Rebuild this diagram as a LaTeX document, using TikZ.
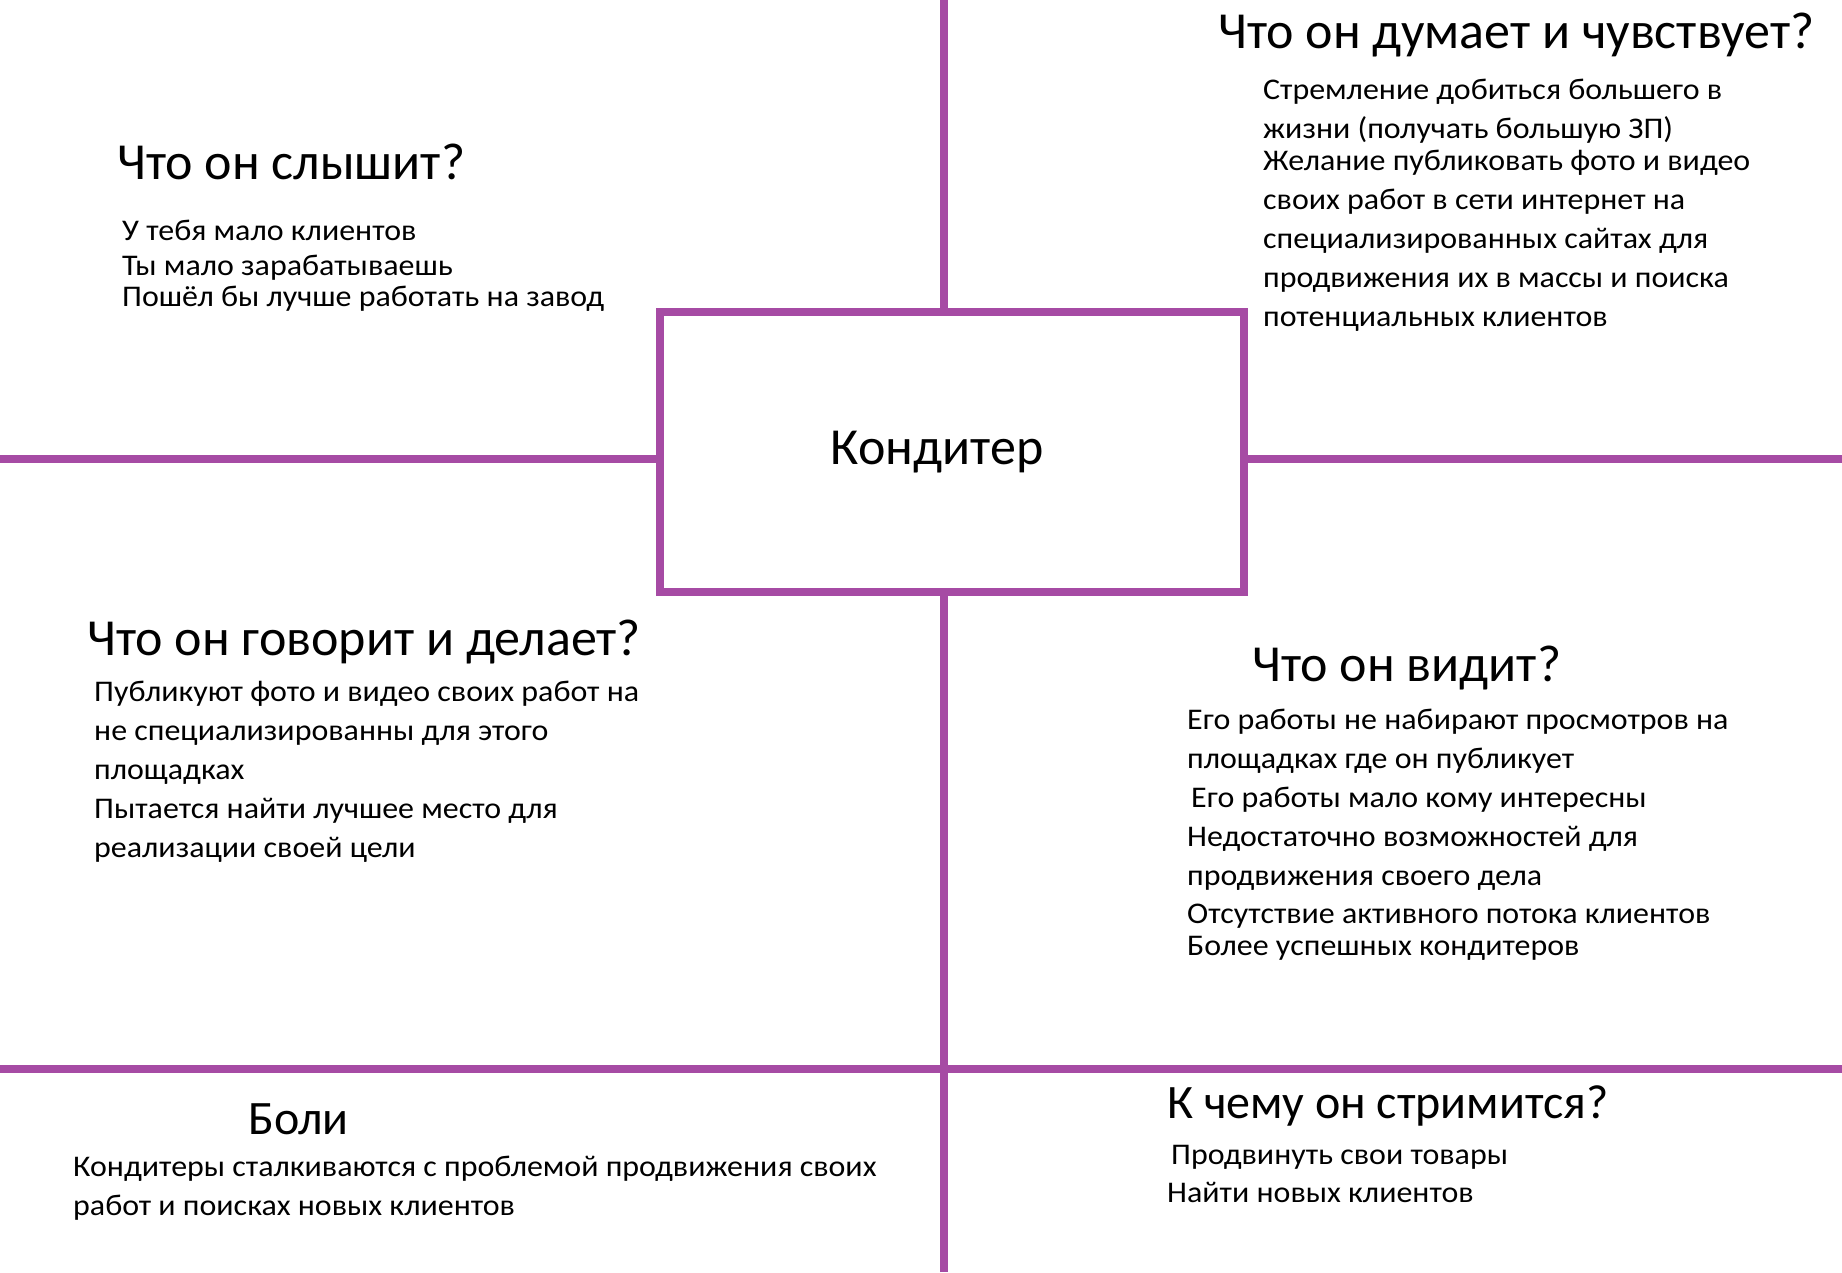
\documentclass[tikz,border=0pt]{standalone}
\usepackage{fontspec}
\setmainfont{Carlito}
\newfontfamily\bodyfont[FakeStretch=1.065]{Carlito}
\definecolor{lineP}{RGB}{166,75,164}
\begin{document}
\begin{tikzpicture}[x=1pt,y=-1pt,
  grid/.style={draw=lineP,line width=8pt},
  ttl/.style={anchor=base west,inner sep=0pt,font=\fontsize{52}{52}\selectfont},
  ttlsmall/.style={anchor=base west,inner sep=0pt,font=\fontsize{48}{48}\selectfont},
  txt/.style={anchor=base west,inner sep=0pt,font=\bodyfont\fontsize{30}{30}\selectfont}]
\useasboundingbox[fill=white] (0,0) rectangle (1842,1272);
% central box
\node[grid,minimum width=584pt,minimum height=280pt,inner sep=0pt] (center) at (952,452) {};
\node[anchor=base,inner sep=0pt,font=\fontsize{52}{52}\selectfont] (lbl) at (937,464) {Кондитер};
% grid lines
\coordinate (vtop) at (944,0);
\coordinate (vbot) at (944,1272);
\coordinate (hleft) at (0,459);
\coordinate (hright) at (1842,459);
\coordinate (bleft) at (0,1069);
\coordinate (bright) at (1842,1069);
\draw[grid] (vtop) -- (vtop |- center.north);
\draw[grid] (vbot) -- (vbot |- center.south);
\draw[grid] (hleft) -- (hleft -| center.west);
\draw[grid] (hright) -- (hright -| center.east);
\draw[grid] (bleft) -- (bright);
% top-left
\node[ttl] (t1) at (117,179) {Что он слышит?};
\node[txt] (a1) at (122,240) {У тебя мало клиентов};
\node[txt] (a2) at (122,275) {Ты мало зарабатываешь};
\node[txt] (a3) at (122,306) {Пошёл бы лучше работать на завод};
% top-right
\node[ttl] (t2) at (1218,48) {Что он думает и чувствует?};
\node[txt] (b1) at (1263,99) {Стремление добиться большего в};
\node[txt] (b2) at (1263,138) {жизни (получать большую ЗП)};
\node[txt] (b3) at (1263,170) {Желание публиковать фото и видео};
\node[txt] (b4) at (1263,209) {своих работ в сети интернет на};
\node[txt] (b5) at (1263,248) {специализированных сайтах для};
\node[txt] (b6) at (1263,287) {продвижения их в массы и поиска};
\node[txt] (b7) at (1263,326) {потенциальных клиентов};
% middle-left
\node[ttl] (t3) at (87,655) {Что он говорит и делает?};
\node[txt] (c1) at (94,701) {Публикуют фото и видео своих работ на};
\node[txt] (c2) at (94,740) {не специализированны для этого};
\node[txt] (c3) at (94,779) {площадках};
\node[txt] (c4) at (94,818) {Пытается найти лучшее место для};
\node[txt] (c5) at (94,857) {реализации своей цели};
% middle-right
\node[ttl] (t4) at (1252,681) {Что он видит?};
\node[txt] (d1) at (1187,729) {Его работы не набирают просмотров на};
\node[txt] (d2) at (1187,768) {площадках где он публикует};
\node[txt] (d3) at (1191,807) {Его работы мало кому интересны};
\node[txt] (d4) at (1187,846) {Недостаточно возможностей для};
\node[txt] (d5) at (1187,885) {продвижения своего дела};
\node[txt] (d6) at (1187,923) {Отсутствие активного потока клиентов};
\node[txt] (d7) at (1187,955) {Более успешных кондитеров};
% bottom-left
\node[ttlsmall] (t5) at (248,1134) {Боли};
\node[txt] (e1) at (73,1176) {Кондитеры сталкиваются с проблемой продвижения своих};
\node[txt] (e2) at (73,1215) {работ и поисках новых клиентов};
% bottom-right
\node[ttlsmall] (t6) at (1167,1118) {К чему он стримится?};
\node[txt] (f1) at (1171,1164) {Продвинуть свои товары};
\node[txt] (f2) at (1167,1202) {Найти новых клиентов};
\end{tikzpicture}
\end{document}
